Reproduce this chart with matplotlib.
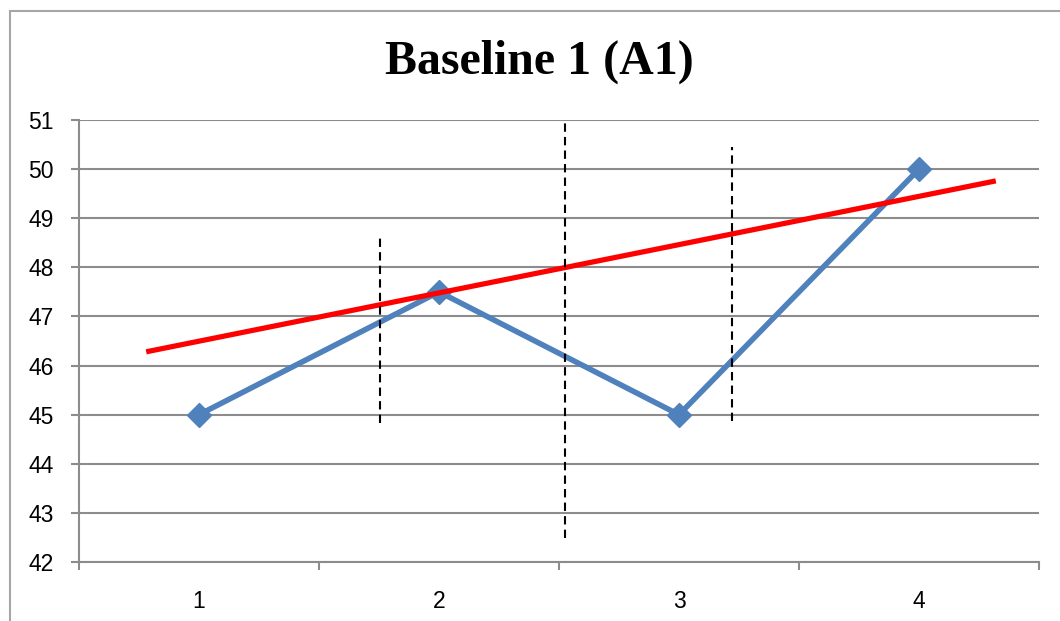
import matplotlib.pyplot as plt
from matplotlib.patches import Rectangle

# session data
sessions = [1, 2, 3, 4]
scores = [45, 47.5, 45, 50]
tick_labels = ["1", "2", "3", "4"]

# aim line end points (x in category units)
aim_x = [0.78, 4.32]
aim_y = [46.28, 49.76]

# phase change markers: (x, y_bottom, y_top)
phase_lines = [
    (1.755, 44.83, 48.62),
    (2.525, 42.49, 50.94),
    (3.22, 44.87, 50.45),
]

fig = plt.figure(figsize=(10.6, 6.21), dpi=100)
fig.patches.append(Rectangle((10 / 1060, -0.1), 1.2, 1.1 - 11 / 621,
                             transform=fig.transFigure, fill=False,
                             edgecolor="#a6a6a6", linewidth=1.5))
ax = fig.add_axes([79 / 1060, 1 - 562 / 621, 960 / 1060, 442 / 621])

grid_col = "#8c8c8c"
ax.set_xlim(0.5, 4.5)
ax.set_ylim(42, 51)
ax.set_yticks(range(42, 52))
ax.yaxis.grid(True, color=grid_col, linewidth=1.5)
ax.set_axisbelow(True)

ax.set_xticks([0.5, 1.5, 2.5, 3.5, 4.5])
ax.set_xticklabels([])
ax.set_xticks(sessions, minor=True)
ax.set_xticklabels(tick_labels, minor=True)
ax.tick_params(axis="x", which="minor", length=0, pad=20)
ax.tick_params(axis="x", which="major", length=6, width=1.5, color=grid_col)
ax.tick_params(axis="y", length=6, width=1.5, color=grid_col, pad=12)
for lab in ax.get_xticklabels(minor=True) + ax.get_yticklabels():
    lab.set_fontfamily("Liberation Sans")
    lab.set_fontsize(16.5)

for side in ["top", "right"]:
    ax.spines[side].set_visible(False)
for side in ["left", "bottom"]:
    ax.spines[side].set_color(grid_col)
    ax.spines[side].set_linewidth(1.5)

ax.plot(sessions, scores, color="#4f81bd", linewidth=4, marker="D",
        markersize=12, zorder=3, clip_on=False)
ax.plot(aim_x, aim_y, color="#ff0000", linewidth=3.75, zorder=4,
        solid_capstyle="butt")

for x, y0, y1 in phase_lines:
    ax.plot([x, x], [y0, y1], color="black", linewidth=1.5,
            linestyle=(0, (4, 2.5)), zorder=5, clip_on=False)

fig.text(539 / 1060, 1 - 62 / 621, "Baseline 1 (A1)", ha="center", va="center",
         fontfamily="Liberation Serif", fontweight="bold", fontsize=34.5)

fig.savefig("out.png", dpi=100)
